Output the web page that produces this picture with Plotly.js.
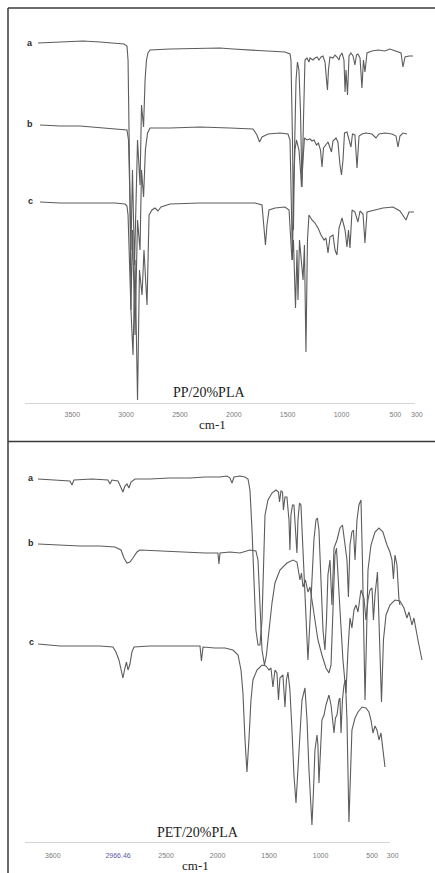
<!DOCTYPE html>
<html>
<head>
<meta charset="utf-8">
<script src="https://cdn.plot.ly/plotly-3.0.1.min.js"></script>
<style>
  html, body { margin: 0; padding: 0; background: #fff; }
  #chart { width: 435px; height: 873px; }
</style>
</head>
<body>
<div id="chart"></div>
<script>
// ---------- DATA (wavenumber in cm-1, signal in arbitrary stacked units) ----------
// Panel 1: PP/20%PLA
const ppWnA = [3818,3614,3400,3242,3103,3019,2992,2982,2964,2955,2941,2922,2894,2871,2857,2838,2824,2811,2797,2778,2592,2314,2128,2007,1850,1692,1525,1478,1469,1455,1446,1436,1422,1409,1395,1381,1367,1353,1339,1320,1302,1292,1265,1246,1227,1209,1190,1172,1153,1139,1130,1121,1107,1079,1060,1042,1023,1014,995,977,967,958,944,930,912,893,875,861,847,828,810,796,782,763,717,661,596,550,494,447,429,410,373,336];
const ppTA  = [361,362,363,362,361,360,358,344,204,154,234,139,264,219,299,277,324,344,351,354,355,356,356,355,354,353,352,350,344,264,174,254,324,342,334,294,217,284,344,346,342,346,344,346,347,344,347,348,342,324,314,334,347,346,349,347,344,348,351,344,312,334,309,348,351,348,339,349,350,346,316,344,332,351,353,354,353,355,353,351,337,347,348,348];

const ppWnB = [3799,3614,3428,3242,3103,2992,2978,2964,2955,2941,2917,2894,2871,2857,2838,2821,2801,2778,2592,2314,2035,1822,1785,1761,1738,1682,1571,1497,1478,1464,1455,1446,1432,1418,1395,1381,1371,1357,1344,1320,1292,1274,1255,1232,1214,1195,1181,1167,1144,1125,1093,1079,1051,1033,1014,1000,986,972,949,930,912,898,875,856,837,810,773,717,680,652,596,531,494,475,457,429,392];
const ppTB  = [279,278,278,276,275,274,264,204,94,174,69,184,154,234,207,254,271,276,276,277,276,275,269,262,267,270,271,270,264,204,144,214,254,264,254,234,217,244,266,264,265,263,264,259,261,254,237,256,259,262,252,263,266,262,239,229,244,271,272,264,257,270,269,236,268,270,271,270,266,270,271,270,268,257,268,271,270];

const ppWnC = [3799,3614,3428,3242,3103,3010,2992,2982,2968,2955,2936,2917,2894,2876,2852,2834,2806,2787,2760,2732,2704,2676,2592,2314,2035,1803,1738,1720,1706,1692,1673,1617,1525,1487,1474,1460,1446,1427,1413,1404,1390,1376,1357,1344,1330,1316,1302,1274,1246,1218,1190,1162,1144,1125,1107,1079,1060,1042,1023,995,967,949,935,921,902,875,847,828,800,782,763,689,615,522,457,401,373,327];
const ppTC  = [202,201,201,201,201,200,198,189,134,94,49,144,4,134,109,154,99,189,194,196,193,197,200,201,201,201,199,179,159,179,194,196,197,194,174,144,164,96,154,104,164,144,124,159,52,164,189,184,181,176,169,164,166,151,167,169,154,149,176,186,174,157,174,156,194,192,182,193,190,161,192,194,196,197,193,184,192,192];

// Panel 2: PET/20%PLA
const petWnA = [3744,3579,3434,3414,3395,3220,3065,3045,3026,2967,2938,2919,2900,2880,2861,2841,2802,2657,2463,2268,2123,1977,1909,1880,1860,1841,1783,1734,1705,1686,1666,1647,1628,1608,1589,1569,1555,1540,1511,1472,1433,1409,1399,1385,1370,1361,1346,1327,1307,1298,1288,1273,1259,1244,1230,1220,1205,1191,1176,1162,1142,1123,1103,1084,1065,1045,1031,1016,997,977,958,943,929,909,890,870,841,812,788,764,744,730,715,696,681,666,647,628,608,594,579,569,555,540,511,472,433,395,356,327,307,293,278,259,239,230];
const petTA  = [364,363,362,358,363,364,363,359,363,362,356,351,357,359,355,361,364,364,365,365,366,366,367,365,360,366,367,366,364,353,313,253,213,198,198,223,283,328,343,350,353,351,341,352,351,333,346,346,323,293,328,338,338,313,290,323,340,338,303,263,228,183,223,263,303,323,325,313,263,213,193,223,268,283,238,295,303,315,318,298,283,246,298,311,313,283,323,338,343,283,183,143,203,273,298,311,315,311,298,291,283,264,288,278,243,238];

const petWnB = [3744,3531,3336,3142,2997,2938,2909,2880,2851,2822,2783,2754,2560,2414,2268,2123,2026,1997,1987,1977,1880,1783,1686,1628,1608,1589,1569,1545,1526,1511,1492,1472,1443,1395,1327,1268,1230,1215,1200,1186,1171,1147,1123,1103,1084,1055,1026,987,948,919,899,880,861,846,832,812,783,754,734,715,696,676,657,637,608,579,560,540,521,501,487,472,448,428,409,390,365,327,278,230,191,162,142,113,94,55,16];
const petTB  = [299,298,297,297,296,293,285,280,281,285,291,293,292,291,290,290,290,290,279,290,291,290,293,292,283,243,193,178,188,203,223,240,260,273,280,283,281,271,263,270,256,263,251,256,243,223,203,188,175,170,178,233,288,295,273,233,183,150,193,225,215,233,238,231,253,245,223,243,253,255,223,248,271,203,141,203,228,238,243,242,235,225,231,218,225,203,183];

const petWnC = [3744,3531,3336,3142,3016,2987,2958,2938,2919,2900,2885,2870,2851,2832,2812,2657,2463,2268,2171,2157,2142,2026,1929,1851,1802,1773,1754,1734,1715,1696,1676,1657,1618,1569,1531,1501,1482,1463,1443,1424,1409,1395,1366,1346,1332,1317,1298,1278,1259,1239,1220,1200,1181,1152,1132,1113,1094,1084,1069,1055,1035,1026,1016,1001,987,967,948,919,899,870,856,841,822,812,802,788,773,759,744,725,710,696,666,637,598,560,531,511,492,472,453,433,414,395,375];
const petTC  = [199,197,197,197,196,191,183,173,165,175,181,173,179,191,196,197,197,197,197,182,196,195,195,193,188,173,150,103,71,103,143,163,173,178,177,173,175,156,173,170,143,165,168,136,163,171,153,113,68,40,73,113,143,155,123,73,33,18,53,93,108,98,60,98,123,128,138,148,138,110,125,128,143,145,110,143,158,163,123,21,63,113,125,131,136,135,131,123,110,117,113,103,110,93,76];

const seriesNames = ['a', 'b', 'c'];
const ppTickVals = [3500, 3000, 2500, 2000, 1500, 1000, 500, 300];
const ppTickText = ['3500', '3000', '2500', '2000', '1500', '1000', '500', '300'];
const petTickVals = [3600, 2966.46, 2500, 2000, 1500, 1000, 500, 300];
const petTickText = ['3600', '<span style="color:#5b5ba8">2966.46</span>', '2500', '2000', '1500', '1000', '500', '300'];
const panelTitles = ['PP/20%PLA', 'PET/20%PLA'];
const xAxisTitle = 'cm-1';

// ---------- STYLE / LAYOUT ----------
const W = 435, H = 873;
const px = v => v / W;          // pixel -> paper x
const py = v => 1 - v / H;      // pixel -> paper y
const lineStyle = { color: '#5c5c5c', width: 1.1 };

function tr(x, y, name, xa, ya) {
  return { x: x, y: y, name: name, type: 'scatter', mode: 'lines',
           line: lineStyle, xaxis: xa, yaxis: ya, hoverinfo: 'x+y+name' };
}

const data = [
  tr(ppWnA, ppTA, seriesNames[0], 'x', 'y'),
  tr(ppWnB, ppTB, seriesNames[1], 'x', 'y'),
  tr(ppWnC, ppTC, seriesNames[2], 'x', 'y'),
  tr(petWnA, petTA, seriesNames[0], 'x2', 'y2'),
  tr(petWnB, petTB, seriesNames[1], 'x2', 'y2'),
  tr(petWnC, petTC, seriesNames[2], 'x2', 'y2')
];

const tickFont = { family: 'Liberation Sans, Arial, sans-serif', size: 7, color: '#7a7a7a' };
const xCommon = { showgrid: false, zeroline: false, showline: false, ticks: 'outside',
                  tickcolor: 'rgba(0,0,0,0)', tickfont: tickFont, tickmode: 'array', fixedrange: true };
const yCommon = { visible: false, showgrid: false, zeroline: false, fixedrange: true };

const frameColor = '#3a3a3a';
const layout = {
  width: W, height: H,
  margin: { l: 0, r: 0, t: 0, b: 0, pad: 0 },
  paper_bgcolor: '#ffffff', plot_bgcolor: 'rgba(0,0,0,0)',
  showlegend: false,
  xaxis: Object.assign({}, xCommon, { domain: [px(25), px(430)], range: [3939, 178], anchor: 'y',
                                      ticklen: 4, tickvals: ppTickVals, ticktext: ppTickText }),
  yaxis: Object.assign({}, yCommon, { domain: [py(404), py(8)], range: [0, 396], anchor: 'x' }),
  xaxis2: Object.assign({}, xCommon, { domain: [px(25), px(430)], range: [3870, -62], anchor: 'y2',
                                       ticklen: 6, tickvals: petTickVals, ticktext: petTickText }),
  yaxis2: Object.assign({}, yCommon, { domain: [py(843), py(441)], range: [0, 402], anchor: 'x2' }),
  shapes: [
    // visible axis lines (end at the last tick as in the original)
    { type: 'line', xref: 'x', yref: 'y', x0: 3939, x1: 318, y0: 0, y1: 0, line: { color: '#a8a8a8', width: 1 } },
    { type: 'line', xref: 'x2', yref: 'y2', x0: 3870, x1: 327, y0: 0, y1: 0, line: { color: '#a8a8a8', width: 1 } },
    // figure frame
    { type: 'line', xref: 'paper', yref: 'paper', x0: px(8), x1: 1, y0: py(8), y1: py(8), line: { color: frameColor, width: 1.5 } },
    { type: 'line', xref: 'paper', yref: 'paper', x0: px(8), x1: px(8), y0: 0, y1: py(8), line: { color: frameColor, width: 1.5 } },
    { type: 'line', xref: 'paper', yref: 'paper', x0: px(8), x1: 1, y0: py(441.5), y1: py(441.5), line: { color: frameColor, width: 1.5 } }
  ],
  annotations: []
};

function label(text, x, y, font) {
  layout.annotations.push({ text: text, xref: 'paper', yref: 'paper', x: px(x), y: py(y),
                            xanchor: 'center', yanchor: 'middle', showarrow: false, font: font });
}
const abcFont = { family: 'Liberation Sans, Arial, sans-serif', size: 9, color: '#2a2a2a', weight: 'bold' };
label(seriesNames[0], 30, 43, abcFont);
label(seriesNames[1], 30, 124, abcFont);
label(seriesNames[2], 30, 201, abcFont);
label(seriesNames[0], 31, 478, abcFont);
label(seriesNames[1], 31, 543, abcFont);
label(seriesNames[2], 31, 642, abcFont);

const titleFont = { family: 'Liberation Serif, Times New Roman, serif', size: 14, color: '#222' };
const unitFont = { family: 'Liberation Serif, Times New Roman, serif', size: 13, color: '#222' };
label(panelTitles[0], 209, 393, titleFont);
label(xAxisTitle, 212, 424, unitFont);
label(panelTitles[1], 198, 832, titleFont);
label(xAxisTitle, 195, 865, unitFont);

Plotly.newPlot('chart', data, layout, { displayModeBar: false, staticPlot: true });
</script>
</body>
</html>
